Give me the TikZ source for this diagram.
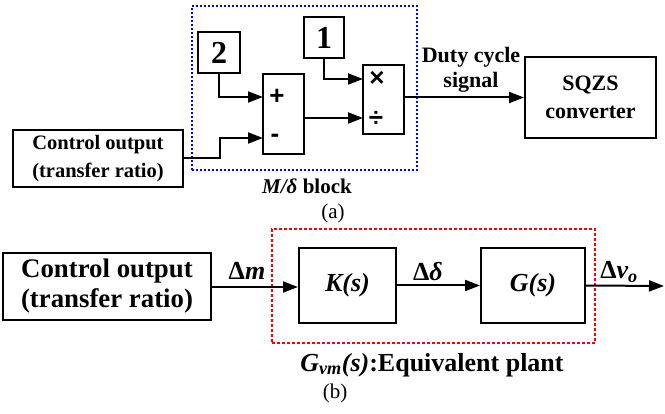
\documentclass[tikz,border=0pt]{standalone}
\usepackage{fontspec}
\setmainfont{Liberation Serif}
\newfontfamily\symfont{Liberation Sans}
\usetikzlibrary{arrows.meta}
\begin{document}
\begin{tikzpicture}[x=1pt,y=-1pt,
  blk/.style={draw,line width=2pt,rectangle,inner sep=0pt,align=center,font=\fontsize{22}{28}\selectfont\bfseries},
  arr/.style={line width=2pt,-{Triangle[length=15pt,width=11pt]}},
  sgn/.style={inner sep=0pt,font=\symfont\fontsize{26}{26}\selectfont\bfseries},
  lbl/.style={inner sep=0pt,align=center,font=\fontsize{22}{25}\selectfont\bfseries},
  lblb/.style={inner sep=0pt,align=center,font=\fontsize{26}{30}\selectfont\bfseries}]
\useasboundingbox (0,0) rectangle (665,414);
% ---------- (a) ----------
\node[draw=blue,line width=2pt,dash pattern=on 2pt off 2pt,rectangle,inner sep=0pt,minimum width=225pt,minimum height=164pt] (mblk) at (304.5,88) {};
\node[blk,minimum width=42pt,minimum height=41pt,font=\fontsize{32}{32}\selectfont\bfseries] (two) at (219,52.5) {2};
\node[blk,minimum width=40pt,minimum height=41pt,font=\fontsize{32}{32}\selectfont\bfseries] (one) at (324,37.5) {1};
\node[blk,minimum width=41pt,minimum height=80pt] (sum) at (283.5,114) {};
\node[blk,minimum width=41pt,minimum height=69pt] (mul) at (383.5,99.5) {};
\node[blk,minimum width=170pt,minimum height=57pt,font=\fontsize{20.5}{28}\selectfont\bfseries] (ctrl) at (98,158.5) {Control output\\(transfer ratio)};
\node[blk,minimum width=131pt,minimum height=81pt] (sqzs) at (590.5,97.5) {SQZS\\converter};
\node[sgn] (plus) at (277,97) {+};
\node[sgn] (minus) at (275,138) {-};
\node[sgn] (times) at (377,79) {×};
\node[sgn] (divide) at (376,119) {÷};
\coordinate (sumin1) at (263,97);
\coordinate (sumin2) at (263,138);
\coordinate (sumout) at (304,118);
\coordinate (mulin1) at (363,79);
\coordinate (mulin2) at (363,118);
\coordinate (ctrlbend) at (220,158.5);
\draw[arr] (two.south) |- (sumin1);
\draw[arr] (ctrl.east) -- (ctrlbend) |- (sumin2);
\draw[arr] (one.south) |- (mulin1);
\draw[arr] (sumout) -- (mulin2);
\draw[arr] (sqzs.west -| mul.east) -- (sqzs.west);
\node[lbl] (duty) at (471,69.5) {Duty cycle\\signal};
\node[lbl,font=\fontsize{21}{25}\selectfont\bfseries] (mlabel) at (307,186) {\textit{M/δ} block};
\node[inner sep=0pt,font=\fontsize{21}{21}\selectfont] (capa) at (333,213) {(a)};
% ---------- (b) ----------
\node[draw=red,line width=2pt,dash pattern=on 3pt off 2pt,rectangle,inner sep=0pt,minimum width=323pt,minimum height=114pt] (plant) at (433.5,286) {};
\node[blk,minimum width=208pt,minimum height=67pt,font=\fontsize{26.8}{30}\selectfont\bfseries] (ctrlb) at (107,286.5) {Control output\\(transfer ratio)};
\node[blk,minimum width=97pt,minimum height=75pt,font=\fontsize{26}{30}\selectfont\bfseries\itshape] (K) at (347.5,285.5) {K(s)};
\node[blk,minimum width=104pt,minimum height=75pt,font=\fontsize{26}{30}\selectfont\bfseries\itshape] (G) at (533,285.5) {G(s)};
\coordinate (out) at (664,286);
\draw[arr] (ctrlb.east |- 0,287) -- (K.west |- 0,287);
\draw[arr] (K.east) -- (G.west);
\draw[arr] (G.east) -- (out);
\node[lblb] (dm) at (247,271) {Δ\textit{m}};
\node[lblb] (dd) at (428,272) {Δ\textit{δ}};
\node[lblb] (dv) at (619,272) {Δ\textit{v\textsubscript{o}}};
\node[lblb] (gvm) at (432,365) {\textit{G\textsubscript{vm}(s)}:Equivalent plant};
\node[inner sep=0pt,font=\fontsize{21}{21}\selectfont] (capb) at (335,393) {(b)};
\end{tikzpicture}
\end{document}
